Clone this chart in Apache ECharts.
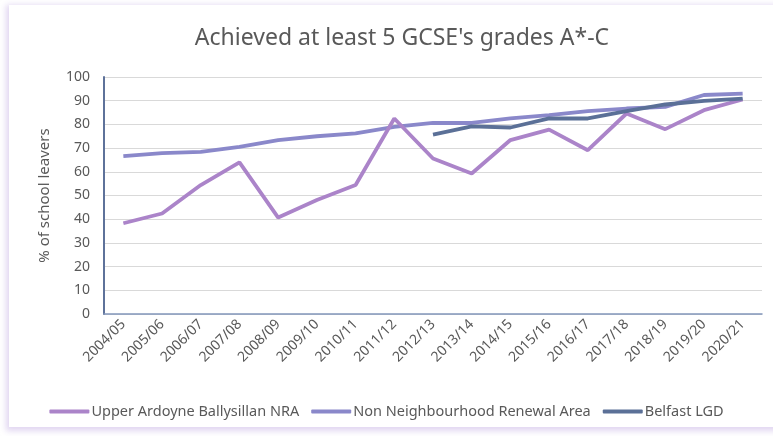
<!DOCTYPE html>
<html>
<head>
<meta charset="utf-8">
<script src="https://cdn.jsdelivr.net/npm/echarts@6/dist/echarts.min.js"></script>
<style>
  html, body { margin: 0; padding: 0; background: #ffffff; width: 773px; height: 436px; overflow: hidden; }
  #frame { position: absolute; left: 9px; top: 5px; width: 790px; height: 422px; background: #fff;
           box-shadow: -1px 2px 6px 2px rgba(200, 180, 230, 0.55); }
  #chart { position: absolute; left: 0; top: 0; width: 773px; height: 436px; }
</style>
</head>
<body>
<div id="frame"></div>
<div id="chart"></div>
<script>
const categories = ['2004/05','2005/06','2006/07','2007/08','2008/09','2009/10','2010/11','2011/12','2012/13','2013/14','2014/15','2015/16','2016/17','2017/18','2018/19','2019/20','2020/21'];
const upperArdoyne = [38.3, 42.4, 54.4, 64.0, 40.7, 48.1, 54.4, 82.5, 65.6, 59.3, 73.4, 77.8, 69.1, 84.6, 78.0, 86.0, 90.5];
const nonNRA = [66.6, 67.9, 68.4, 70.5, 73.4, 75.0, 76.2, 79.0, 80.6, 80.6, 82.5, 83.9, 85.6, 86.7, 87.4, 92.4, 93.0];
const belfastLGD = [null, null, null, null, null, null, null, null, 75.7, 79.2, 78.7, 82.5, 82.5, 85.6, 88.4, 89.9, 90.9];
const yTicks = [0, 100, 10];

const font = 'Noto Sans';
const txt = '#595959';
const chart = echarts.init(document.getElementById('chart'), null, { renderer: 'canvas' });
chart.setOption({
  backgroundColor: 'transparent',
  title: {
    text: "Achieved at least 5 GCSE's grades A*-C",
    left: 397, top: 22, textAlign: 'center',
    textStyle: { fontFamily: font, fontSize: 23, fontWeight: 'normal', color: txt }
  },
  legend: {
    bottom: 12, left: 'center',
    itemWidth: 40, itemHeight: 4, itemGap: 12,
    icon: 'roundRect',
    textStyle: { fontFamily: font, fontSize: 14.5, color: txt, padding: [0, 0, 0, -3] },
    data: ['Upper Ardoyne Ballysillan NRA', 'Non Neighbourhood Renewal Area', 'Belfast LGD']
  },
  grid: { left: 104, right: 11, top: 77, bottom: 122 },
  xAxis: {
    type: 'category', data: categories, boundaryGap: true,
    axisLine: { show: true, lineStyle: { color: '#8397bb', width: 1.5 } },
    axisTick: { show: false },
    axisLabel: { rotate: 45, fontFamily: font, fontSize: 14, color: txt, margin: 8, interval: 0 }
  },
  yAxis: {
    type: 'value', min: yTicks[0], max: yTicks[1], interval: yTicks[2],
    name: '% of school leavers', nameLocation: 'middle', nameGap: 52, nameRotate: 90,
    nameTextStyle: { fontFamily: font, fontSize: 15, color: txt },
    axisLine: { show: true, lineStyle: { color: '#5e729a', width: 2 } },
    axisTick: { show: false },
    axisLabel: { fontFamily: font, fontSize: 14, color: txt, margin: 14 },
    splitLine: { lineStyle: { color: '#d9d9d9', width: 1.2 } }
  },
  series: [
    { name: 'Upper Ardoyne Ballysillan NRA', type: 'line', data: upperArdoyne, showSymbol: false, symbol: 'none',
      lineStyle: { width: 3.8, color: '#ab84c9' }, itemStyle: { color: '#ab84c9' }, z: 3 },
    { name: 'Non Neighbourhood Renewal Area', type: 'line', data: nonNRA, showSymbol: false, symbol: 'none',
      lineStyle: { width: 3.8, color: '#8a88ca' }, itemStyle: { color: '#8a88ca' }, z: 2 },
    { name: 'Belfast LGD', type: 'line', data: belfastLGD, showSymbol: false, symbol: 'none',
      lineStyle: { width: 3.8, color: '#5b7097' }, itemStyle: { color: '#5b7097' }, z: 4 }
  ],
  animation: false
});
</script>
</body>
</html>
